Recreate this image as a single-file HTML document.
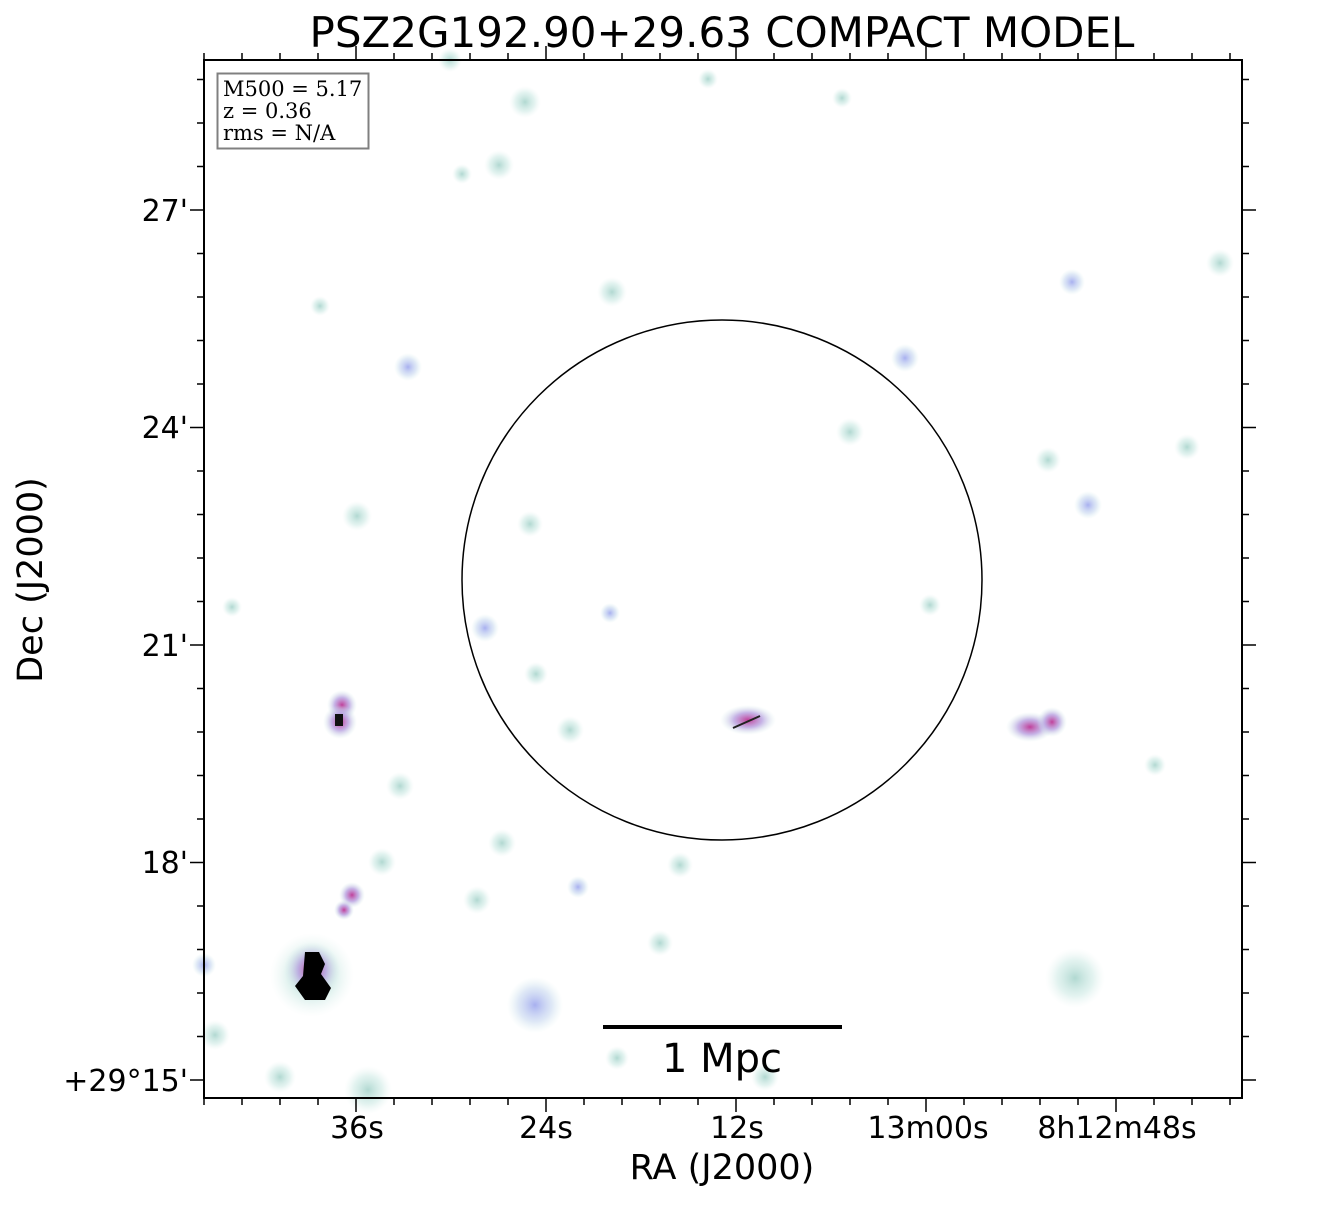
<!DOCTYPE html>
<html><head><style>
body{margin:0;background:#fff;width:1321px;height:1200px;overflow:hidden}
</style></head><body>
<svg width="1321" height="1200" xmlns="http://www.w3.org/2000/svg" font-family="DejaVu Sans, sans-serif">
<defs>
<radialGradient id="h"><stop offset="0" stop-color="#a8d4cc" stop-opacity="0.9"/><stop offset="0.6" stop-color="#d0ebe6" stop-opacity="0.6"/><stop offset="1" stop-color="#e8f4f2" stop-opacity="0"/></radialGradient>
<radialGradient id="p"><stop offset="0" stop-color="#c0409a"/><stop offset="0.5" stop-color="#b8a0e0" stop-opacity="0.8"/><stop offset="1" stop-color="#d0ece8" stop-opacity="0"/></radialGradient>
<radialGradient id="b"><stop offset="0" stop-color="#a8b0f0"/><stop offset="0.6" stop-color="#c8d8f0" stop-opacity="0.6"/><stop offset="1" stop-color="#d8eeee" stop-opacity="0"/></radialGradient>
</defs>
<text x="722" y="47" font-size="42" text-anchor="middle">PSZ2G192.90+29.63 COMPACT MODEL</text>
<g>
<circle cx="312" cy="975" r="42" fill="url(#h)"/>
<circle cx="312" cy="970" r="28" fill="url(#p)"/>
<path d="M305 952 h14 l6 12 l-4 10 l10 14 l-6 12 h-20 l-10 -14 l8 -10 z" fill="#000"/>
<circle cx="342" cy="705" r="15" fill="url(#p)"/><circle cx="340" cy="722" r="17" fill="url(#p)"/><rect x="335" y="714" width="8" height="12" fill="#111"/>
<circle cx="352" cy="895" r="13" fill="url(#p)"/><circle cx="344" cy="910" r="10" fill="url(#p)"/>
<ellipse cx="748" cy="720" rx="28" ry="15" fill="url(#p)"/><line x1="733" y1="728" x2="760" y2="716" stroke="#222" stroke-width="2"/>
<ellipse cx="1030" cy="727" rx="24" ry="15" fill="url(#p)"/><circle cx="1052" cy="722" r="15" fill="url(#p)"/>
<circle cx="535" cy="1005" r="28" fill="url(#b)"/><circle cx="1075" cy="978" r="30" fill="url(#h)"/>
<circle cx="905" cy="358" r="14" fill="url(#b)"/><circle cx="1088" cy="505" r="14" fill="url(#b)"/>
<circle cx="408" cy="367" r="14" fill="url(#b)"/><circle cx="485" cy="628" r="14" fill="url(#b)"/>
<circle cx="525" cy="102" r="16" fill="url(#h)"/><circle cx="612" cy="292" r="15" fill="url(#h)"/>
<circle cx="499" cy="165" r="15" fill="url(#h)"/><circle cx="357" cy="516" r="15" fill="url(#h)"/>
<circle cx="850" cy="432" r="14" fill="url(#h)"/><circle cx="570" cy="730" r="14" fill="url(#h)"/>
<circle cx="502" cy="843" r="14" fill="url(#h)"/><circle cx="382" cy="862" r="14" fill="url(#h)"/>
<circle cx="680" cy="865" r="13" fill="url(#h)"/><circle cx="400" cy="786" r="14" fill="url(#h)"/>
<circle cx="477" cy="900" r="14" fill="url(#h)"/><circle cx="660" cy="943" r="13" fill="url(#h)"/>
<circle cx="1220" cy="263" r="14" fill="url(#h)"/><circle cx="1048" cy="460" r="13" fill="url(#h)"/>
<circle cx="1072" cy="282" r="13" fill="url(#b)"/><circle cx="1187" cy="447" r="13" fill="url(#h)"/>
<circle cx="530" cy="524" r="13" fill="url(#h)"/><circle cx="280" cy="1077" r="16" fill="url(#h)"/>
<circle cx="368" cy="1090" r="24" fill="url(#h)"/><circle cx="215" cy="1035" r="15" fill="url(#h)"/>
<circle cx="617" cy="1058" r="12" fill="url(#h)"/><circle cx="765" cy="1077" r="14" fill="url(#h)"/>
<circle cx="578" cy="887" r="11" fill="url(#b)"/><circle cx="1155" cy="765" r="11" fill="url(#h)"/>
<circle cx="930" cy="605" r="11" fill="url(#h)"/><circle cx="536" cy="674" r="12" fill="url(#h)"/>
<circle cx="610" cy="613" r="10" fill="url(#b)"/><circle cx="708" cy="79" r="10" fill="url(#h)"/>
<circle cx="842" cy="98" r="10" fill="url(#h)"/><circle cx="462" cy="174" r="10" fill="url(#h)"/>
<circle cx="232" cy="607" r="10" fill="url(#h)"/><circle cx="320" cy="306" r="10" fill="url(#h)"/>
<circle cx="204" cy="965" r="12" fill="url(#b)"/><circle cx="450" cy="60" r="12" fill="url(#h)"/>
</g>
<circle cx="722" cy="580" r="260" fill="none" stroke="#000" stroke-width="1.5"/>
<line x1="603" y1="1027" x2="842" y2="1027" stroke="#000" stroke-width="4"/>
<text x="722" y="1072" font-size="40" text-anchor="middle">1 Mpc</text>
<rect x="217.5" y="73.5" width="151" height="75" fill="#fff" stroke="#808080" stroke-width="2"/>
<g font-family="DejaVu Serif, serif" font-size="21"><text x="223" y="96">M500 = 5.17</text><text x="223" y="118">z = 0.36</text><text x="223" y="140">rms = N/A</text></g>
<rect x="204" y="60" width="1038" height="1038" fill="none" stroke="#000" stroke-width="2"/>
<g stroke="#000" stroke-width="1.5" fill="none">
<path d="M204 1098v7M242 1098v7M280 1098v7M318 1098v7M394 1098v7M432 1098v7M470 1098v7M508 1098v7M584 1098v7M622 1098v7M660 1098v7M698 1098v7M774 1098v7M812 1098v7M850 1098v7M888 1098v7M964 1098v7M1002 1098v7M1040 1098v7M1078 1098v7M1154 1098v7M1192 1098v7M1230 1098v7"/>
<path d="M356 1098v14M546 1098v14M736 1098v14M926 1098v14M1116 1098v14"/>
<path d="M204 60v-7M242 60v-7M280 60v-7M318 60v-7M394 60v-7M432 60v-7M470 60v-7M508 60v-7M584 60v-7M622 60v-7M660 60v-7M698 60v-7M774 60v-7M812 60v-7M850 60v-7M888 60v-7M964 60v-7M1002 60v-7M1040 60v-7M1078 60v-7M1154 60v-7M1192 60v-7M1230 60v-7"/>
<path d="M356 60v-14M546 60v-14M736 60v-14M926 60v-14M1116 60v-14"/>
<path d="M204 1036.5h-7M204 993h-7M204 949.5h-7M204 906h-7M204 819h-7M204 775.5h-7M204 732h-7M204 688.5h-7M204 601.5h-7M204 558h-7M204 514.5h-7M204 471h-7M204 384h-7M204 340.5h-7M204 297h-7M204 253.5h-7M204 166.5h-7M204 123h-7M204 79.5h-7"/>
<path d="M204 1080h-14M204 862.5h-14M204 645h-14M204 427.5h-14M204 210h-14"/>
<path d="M1242 1036.5h7M1242 993h7M1242 949.5h7M1242 906h7M1242 819h7M1242 775.5h7M1242 732h7M1242 688.5h7M1242 601.5h7M1242 558h7M1242 514.5h7M1242 471h7M1242 384h7M1242 340.5h7M1242 297h7M1242 253.5h7M1242 166.5h7M1242 123h7M1242 79.5h7"/>
<path d="M1242 1080h14M1242 862.5h14M1242 645h14M1242 427.5h14M1242 210h14"/>
</g>
<g font-size="30" text-anchor="end"><text x="188" y="221">27'</text><text x="188" y="438">24'</text><text x="188" y="656">21'</text><text x="188" y="873">18'</text><text x="188" y="1091">+29°15'</text></g>
<g font-size="30" text-anchor="middle"><text x="357" y="1138">36s</text><text x="546" y="1138">24s</text><text x="737" y="1138">12s</text><text x="928" y="1138">13m00s</text><text x="1117" y="1138">8h12m48s</text></g>
<text x="722" y="1179" font-size="35" text-anchor="middle">RA (J2000)</text>
<text transform="translate(42,580) rotate(-90)" font-size="35" text-anchor="middle">Dec (J2000)</text>
</svg>
</body></html>
